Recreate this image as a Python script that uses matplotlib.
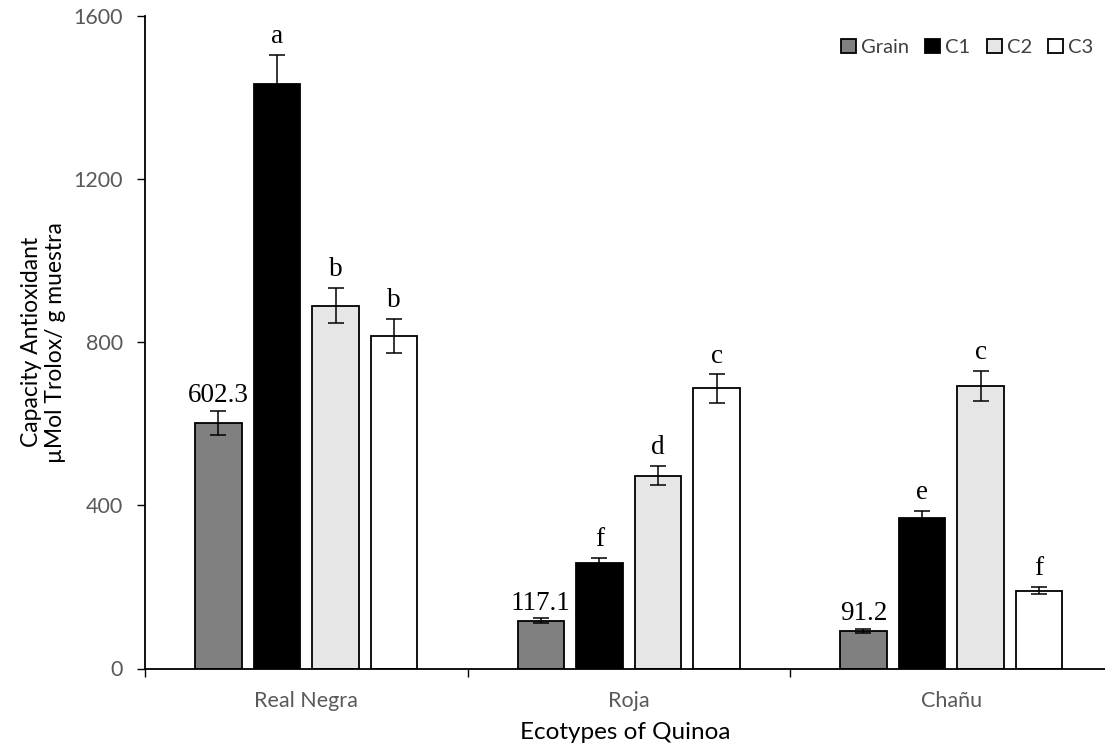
import matplotlib
matplotlib.use("Agg")
import matplotlib.pyplot as plt
import numpy as np

categories = ["Real Negra", "Roja", "Chañu"]
series = ["Grain", "C1", "C2", "C3"]
grain = [602.3, 117.1, 91.2]
c1 = [1433, 259, 370]
c2 = [890, 473, 693]
c3 = [815, 687, 191]
grain_err = [30, 6, 5]
c1_err = [72, 12, 17]
c2_err = [44, 24, 37]
c3_err = [42, 35, 9]
grain_labels = ["602.3", "117.1", "91.2"]
c1_labels = ["a", "f", "e"]
c2_labels = ["b", "d", "c"]
c3_labels = ["b", "c", "f"]

values = [grain, c1, c2, c3]
errors = [grain_err, c1_err, c2_err, c3_err]
labels = [grain_labels, c1_labels, c2_labels, c3_labels]
colors = ["#808080", "#000000", "#e6e6e6", "#ffffff"]

fig = plt.figure(figsize=(11.05, 7.51), dpi=100)
ax = fig.add_axes([145/1105, 1 - 668.5/751, 960/1105, (668.5 - 16)/751])

centers = np.arange(len(categories)) + 0.5
step = 0.1815
width = 0.143
for i, (vals, errs, labs, col) in enumerate(zip(values, errors, labels, colors)):
    x = centers + (i - 1.5) * step
    ax.bar(x, vals, width, color=col, edgecolor="black", linewidth=1.3,
           label=series[i], zorder=2)
    ax.errorbar(x, vals, yerr=errs, fmt="none", ecolor="black",
                elinewidth=1.1, capsize=5.5, capthick=1.1, zorder=3)
    for xx, v, e, t in zip(x, vals, errs, labs):
        off = 2 if i == 0 else 4
        ax.annotate(t, (xx, v + e), xytext=(0, off), textcoords="offset points",
                    ha="center", va="bottom", fontsize=19.5,
                    family="Liberation Serif", color="black")

ax.set_xlim(0, 960/322.5)
ax.set_ylim(0, 1600)
ax.set_yticks([0, 400, 800, 1200, 1600])
ax.set_xticks([0, 1, 2])
ax.set_xticklabels([])
ax.set_xticks(centers, minor=True)
ax.set_xticklabels(categories, minor=True)
ax.tick_params(axis="x", which="minor", length=0, pad=16, labelsize=15.5,
               labelcolor="#595959")
ax.tick_params(axis="x", which="major", length=6, width=1, direction="out")
ax.tick_params(axis="y", length=6, width=1, direction="out", labelsize=15.5,
               labelcolor="#595959", pad=10)
for lab in ax.get_xticklabels(minor=True) + ax.get_yticklabels():
    lab.set_family("Lato")

for s in ["top", "right"]:
    ax.spines[s].set_visible(False)
for s in ["left", "bottom"]:
    ax.spines[s].set_linewidth(1.3)

ax.set_ylabel("Capacity Antioxidant\nµMol Trolox/ g muestra", fontsize=16.5,
              family="Lato", labelpad=5, linespacing=1.2)
ax.set_xlabel("Ecotypes of Quinoa", fontsize=17.5, family="Lato", labelpad=8)

leg = ax.legend(loc="upper right", bbox_to_anchor=(1.007, 0.993), ncol=4,
                frameon=False, handlelength=0.75, handleheight=0.75,
                handletextpad=0.25, columnspacing=0.8,
                prop={"family": "Lato", "size": 14.5})
for t in leg.get_texts():
    t.set_color("#404040")

fig.savefig("out.png", dpi=100)
